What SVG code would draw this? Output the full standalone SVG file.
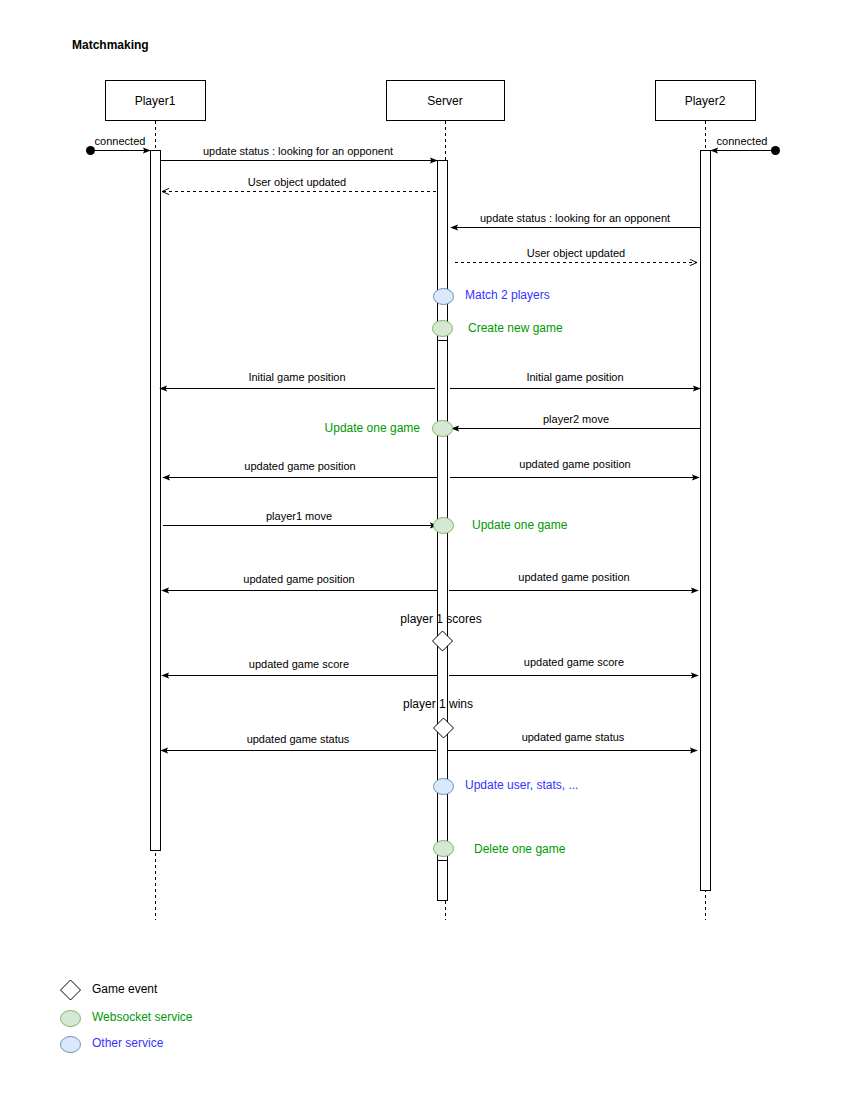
<svg xmlns="http://www.w3.org/2000/svg" width="850" height="1100" viewBox="0 0 850 1100">
<style>
text{font-family:"Liberation Sans",Arial,sans-serif;font-size:11px;fill:#000}
.c{text-anchor:middle}
.n{font-size:12px}
.t{font-size:12px;font-weight:bold}
.g{fill:#009900;font-size:12px}
.b{fill:#3333ff;font-size:12px}
.box{fill:#fff;stroke:#000;stroke-width:1}
.life{stroke:#000;stroke-dasharray:3 3;fill:none}
.msg{stroke:#000;fill:none;stroke-width:1}
.ret{stroke:#000;fill:none;stroke-dasharray:3 3}
.ge{fill:#d5e8d4;stroke:#82b366}
.be{fill:#dae8fc;stroke:#6c8ebf}
.dia{fill:#fff;stroke:#000}
</style>
<defs>
<marker id="blk" viewBox="0 0 10 10" refX="9" refY="5" markerWidth="8" markerHeight="8" markerUnits="userSpaceOnUse" orient="auto"><path d="M0,1 L10,5 L0,9 L2,5 Z" fill="#000"/></marker>
<marker id="opn" viewBox="0 0 10 10" refX="9" refY="5" markerWidth="8" markerHeight="8" markerUnits="userSpaceOnUse" orient="auto"><path d="M0,1 L9,5 L0,9" fill="none" stroke="#000" stroke-width="1.2"/></marker>
</defs>
<text class="t" x="72" y="49">Matchmaking</text>
<g id="player1">
<rect class="box" x="105.5" y="80.5" width="100" height="40"/>
<text class="n c" x="155" y="105">Player1</text>
<line class="life" x1="155.5" y1="121" x2="155.5" y2="920"/>
<rect class="box" x="150.5" y="150.5" width="10" height="700"/>
</g>
<g id="server">
<rect class="box" x="386.5" y="80.5" width="118" height="40"/>
<text class="n c" x="445" y="105">Server</text>
<line class="life" x1="445.5" y1="121" x2="445.5" y2="920"/>
<rect class="box" x="437.5" y="160.5" width="10" height="180"/>
<rect class="box" x="437.5" y="340.5" width="10" height="520"/>
<rect class="box" x="437.5" y="860.5" width="10" height="40"/>
</g>
<g id="player2">
<rect class="box" x="655.5" y="80.5" width="100" height="40"/>
<text class="n c" x="705" y="105">Player2</text>
<line class="life" x1="705.5" y1="121" x2="705.5" y2="920"/>
<rect class="box" x="700.5" y="150.5" width="10" height="740"/>
</g>
<g id="connectors">
<circle cx="90.5" cy="150.5" r="4.5" fill="#000"/>
<line class="msg" x1="90" y1="150.5" x2="150" y2="150.5" marker-end="url(#blk)"/>
<text class="c" x="120" y="145">connected</text>
<circle cx="775.5" cy="150.5" r="4.5" fill="#000"/>
<line class="msg" x1="775" y1="150.5" x2="711" y2="150.5" marker-end="url(#blk)"/>
<text class="c" x="742" y="145">connected</text>
<line class="msg" x1="161" y1="160.5" x2="437" y2="160.5" marker-end="url(#blk)"/>
<text class="c" x="298" y="155">update status : looking for an opponent</text>
<line class="ret" x1="436" y1="191.5" x2="162" y2="191.5" marker-end="url(#opn)"/>
<text class="c" x="297" y="186">User object updated</text>
<line class="msg" x1="700" y1="227.5" x2="451" y2="227.5" marker-end="url(#blk)"/>
<text class="c" x="575" y="222">update status : looking for an opponent</text>
<line class="ret" x1="455" y1="262.5" x2="697" y2="262.5" marker-end="url(#opn)"/>
<text class="c" x="576" y="257">User object updated</text>
<line class="msg" x1="435" y1="388.5" x2="160" y2="388.5" marker-end="url(#blk)"/>
<text class="c" x="297" y="381">Initial game position</text>
<line class="msg" x1="450" y1="388.5" x2="700" y2="388.5" marker-end="url(#blk)"/>
<text class="c" x="575" y="381">Initial game position</text>
<line class="msg" x1="701" y1="428.5" x2="452" y2="428.5" marker-end="url(#blk)"/>
<text class="c" x="576" y="423">player2 move</text>
<line class="msg" x1="437" y1="477.5" x2="163" y2="477.5" marker-end="url(#blk)"/>
<text class="c" x="300" y="470">updated game position</text>
<line class="msg" x1="450" y1="477.5" x2="699" y2="477.5" marker-end="url(#blk)"/>
<text class="c" x="575" y="468">updated game position</text>
<line class="msg" x1="163" y1="525.5" x2="437" y2="525.5" marker-end="url(#blk)"/>
<text class="c" x="299" y="520">player1 move</text>
<line class="msg" x1="437" y1="590.5" x2="162" y2="590.5" marker-end="url(#blk)"/>
<text class="c" x="299" y="583">updated game position</text>
<line class="msg" x1="449" y1="590.5" x2="698" y2="590.5" marker-end="url(#blk)"/>
<text class="c" x="574" y="581">updated game position</text>
<line class="msg" x1="437" y1="675.5" x2="162" y2="675.5" marker-end="url(#blk)"/>
<text class="c" x="299" y="668">updated game score</text>
<line class="msg" x1="449" y1="675.5" x2="698" y2="675.5" marker-end="url(#blk)"/>
<text class="c" x="574" y="666">updated game score</text>
<line class="msg" x1="436" y1="750.5" x2="161" y2="750.5" marker-end="url(#blk)"/>
<text class="c" x="298" y="743">updated game status</text>
<line class="msg" x1="448" y1="750.5" x2="697" y2="750.5" marker-end="url(#blk)"/>
<text class="c" x="573" y="741">updated game status</text>
</g>
<g id="match">
<ellipse class="be" cx="443.5" cy="296.5" rx="10" ry="8"/>
<text class="b" x="465" y="299">Match 2 players</text>
</g>
<g id="create">
<ellipse class="ge" cx="442.5" cy="328.5" rx="10" ry="8"/>
<text class="g" x="468" y="332">Create new game</text>
</g>
<g id="update1">
<ellipse class="ge" cx="442.5" cy="428.5" rx="10" ry="8"/>
<text class="g" x="420" y="432" text-anchor="end">Update one game</text>
</g>
<g id="update2">
<ellipse class="ge" cx="443.5" cy="525.5" rx="10" ry="8"/>
<text class="g" x="472" y="529">Update one game</text>
</g>
<g id="scores">
<text class="n c" x="441" y="623">player 1 scores</text>
<path class="dia" d="M442.5,631 L452.5,641 L442.5,651 L432.5,641 Z"/>
</g>
<g id="wins">
<text class="n c" x="438" y="708">player 1 wins</text>
<path class="dia" d="M443.5,718 L453.5,728 L443.5,738 L433.5,728 Z"/>
</g>
<g id="updateuser">
<ellipse class="be" cx="443.5" cy="786.5" rx="10" ry="8"/>
<text class="b" x="465" y="789">Update user, stats, ...</text>
</g>
<g id="delete">
<ellipse class="ge" cx="443.5" cy="848.5" rx="10" ry="8"/>
<text class="g" x="474" y="853">Delete one game</text>
</g>
<g id="legend">
<path class="dia" d="M70.5,980 L80.5,990 L70.5,1000 L60.5,990 Z"/>
<text class="n" x="92" y="993">Game event</text>
<ellipse class="ge" cx="70.5" cy="1018.5" rx="10" ry="8"/>
<text class="g" x="92" y="1021">Websocket service</text>
<ellipse class="be" cx="70.5" cy="1044.5" rx="10" ry="8"/>
<text class="b" x="92" y="1047">Other service</text>
</g>
</svg>
